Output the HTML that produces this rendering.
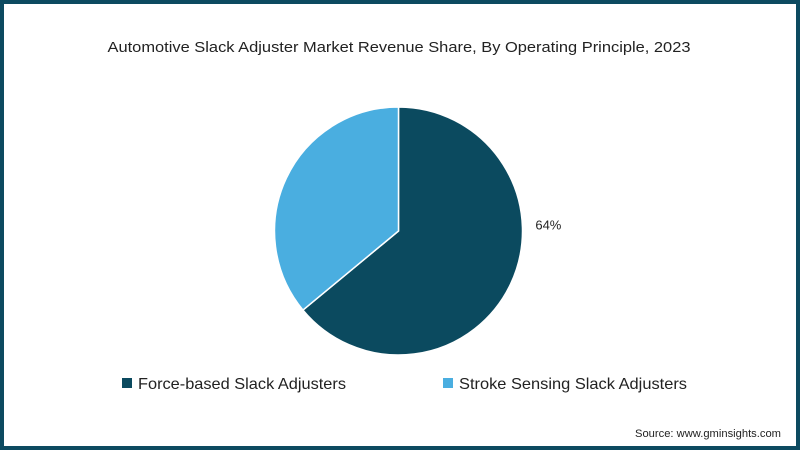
<!DOCTYPE html>
<html><head><meta charset="utf-8"><style>
html,body{margin:0;padding:0;background:#fff}
svg{display:block;font-family:"Liberation Sans",sans-serif}
</style></head><body>
<svg width="800" height="450" viewBox="0 0 800 450">
<rect x="2" y="2" width="796" height="446" fill="#fff" stroke="#0d4a60" stroke-width="4"/>
<text x="399" y="52" text-anchor="middle" font-size="15" fill="#222" textLength="583" lengthAdjust="spacingAndGlyphs">Automotive Slack Adjuster Market Revenue Share, By Operating Principle, 2023</text>
<g id="pie"></g>
<rect x="122" y="378" width="10" height="10" fill="#0b4a5f"/>
<text x="138" y="389" font-size="16" fill="#222" textLength="208" lengthAdjust="spacingAndGlyphs">Force-based Slack Adjusters</text>
<rect x="443" y="378" width="10" height="10" fill="#4aaee0"/>
<text x="459" y="389" font-size="16" fill="#222" textLength="228" lengthAdjust="spacingAndGlyphs">Stroke Sensing Slack Adjusters</text>
<text x="781" y="437" text-anchor="end" font-size="11" fill="#222" textLength="146" lengthAdjust="spacingAndGlyphs">Source: www.gminsights.com</text>
</svg>
<script>
const categories = ["Force-based Slack Adjusters","Stroke Sensing Slack Adjusters"];
const values = [64, 36];
const labels = ["64%", ""];
const colors = ["#0b4a5f", "#4aaee0"];
const cx = 398.5, cy = 231, r = 124;
const g = document.getElementById('pie');
const ns = 'http://www.w3.org/2000/svg';
const total = values.reduce((a,b)=>a+b,0);
let a0 = 0;
function pt(a, rr){ return [cx + rr*Math.sin(a), cy - rr*Math.cos(a)]; }
values.forEach((v,i)=>{
  const a1 = a0 + v/total*2*Math.PI;
  const p0 = pt(a0,r), p1 = pt(a1,r);
  const large = (a1-a0) > Math.PI ? 1 : 0;
  const path = document.createElementNS(ns,'path');
  path.setAttribute('d', `M${cx},${cy} L${p0[0]},${p0[1]} A${r},${r} 0 ${large} 1 ${p1[0]},${p1[1]} Z`);
  path.setAttribute('fill', colors[i]);
  path.setAttribute('stroke', '#fff');
  path.setAttribute('stroke-width', '1.5');
  
  
  g.appendChild(path);
  if (labels[i]) {
    const t = document.createElementNS(ns,'text');
    const mid = a0 + (a1-a0)*0.38;
    const lp = pt(mid, r + 26);
    t.setAttribute('x', lp[0]); t.setAttribute('y', lp[1] + 5);
    t.setAttribute('text-anchor', 'middle');
    t.setAttribute('font-size', '13');
    t.setAttribute('fill', '#222');
    t.textContent = labels[i];
    
    
    g.appendChild(t);
  }
  a0 = a1;
});
</script>
</body></html>
